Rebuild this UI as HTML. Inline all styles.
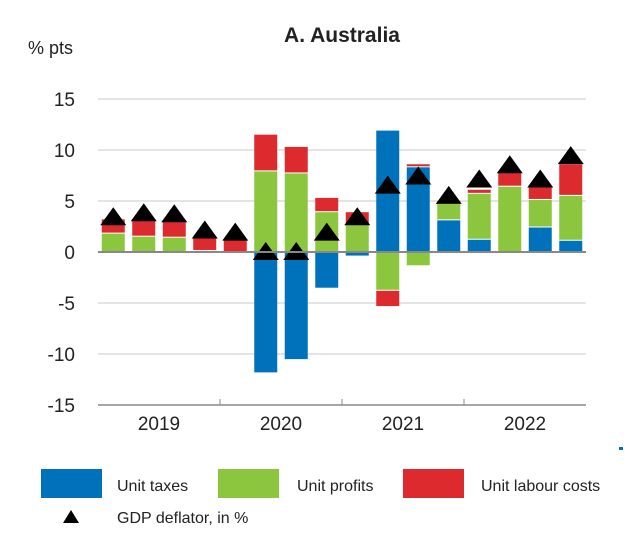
<!DOCTYPE html>
<html><head><meta charset="utf-8"><style>
body{margin:0;background:#fff;font-family:"Liberation Sans",Arial,sans-serif}
svg text{font-family:"Liberation Sans",Arial,sans-serif;fill:#222}
</style></head><body>
<svg id="c" width="632" height="534">
<text x="342" y="42" font-size="21" font-weight="bold" text-anchor="middle">A. Australia</text>
<text x="28" y="54" font-size="18">% pts</text>
<g id="grid"></g><g id="bars"></g><g id="marks"></g><g id="axis"></g>
<g>
<rect x="41" y="469" width="61" height="29" fill="#0072bc"/>
<text x="117" y="491" font-size="16">Unit taxes</text>
<rect x="218" y="469" width="61" height="29" fill="#8cc63f"/>
<text x="297" y="491" font-size="16">Unit profits</text>
<rect x="403" y="469" width="61" height="29" fill="#dc2a2e"/>
<text x="481" y="491" font-size="16">Unit labour costs</text>
<polygon points="63,523 71,510 79,523" fill="#000"/>
<text x="117" y="523" font-size="16">GDP deflator, in %</text>
</g>
<rect x="619" y="447" width="4" height="3" fill="#0072bc"/>
</svg>
<script>
const years=["2019","2020","2021","2022"];
const yTicks=[15,10,5,0,-5,-10,-15];
const taxes=[0,0,0,0,-0.2,-11.9,-10.6,-3.6,-0.45,12.0,8.4,3.2,1.3,0,2.5,1.2];
const profits=[1.9,1.6,1.5,0.2,0,8.0,7.8,4.0,2.8,-3.8,-1.4,1.6,4.5,6.5,2.7,4.4];
const labour=[1.4,1.7,1.6,1.3,1.3,3.6,2.6,1.4,1.2,-1.6,0.3,0.3,0.4,1.5,1.4,3.1];
const deflator=[3.5,3.9,3.8,2.2,2.0,0.1,0.1,2.0,3.5,6.6,7.5,5.6,7.2,8.6,7.2,9.5];
const NS="http://www.w3.org/2000/svg";
const x0=98,x1=586,nq=taxes.length,qw=(x1-x0)/nq;
function y(v){return 252-v*10.2;}
function xc(i){return x0+qw*(i+0.5);}
function mk(t,a,p){const e=document.createElementNS(NS,t);for(const k in a)e.setAttribute(k,a[k]);p.appendChild(e);return e;}
const G=document.getElementById('grid'),B=document.getElementById('bars'),M=document.getElementById('marks'),A=document.getElementById('axis');
yTicks.forEach(t=>{
 if(t!==0&&t!==-15){const l=mk('line',{x1:x0,x2:x1,y1:y(t),y2:y(t),stroke:'#d4d4d4','stroke-width':1.2},G);
 
 }
 const tx=mk('text',{x:75,y:y(t)+7,'font-size':19,'text-anchor':'end'},A);tx.textContent=t;
 
 
});
const series=[[taxes,'#0072bc','bar-taxes'],[profits,'#8cc63f','bar-profits'],[labour,'#dc2a2e','bar-labour']];
for(let i=0;i<nq;i++){
 let pos=0,neg=0;
 series.forEach(([arr,col,nm])=>{
  const v=arr[i];if(v===0)return;
  let a,b;
  if(v>0){a=pos;b=pos+v;pos=b;}else{a=neg;b=neg+v;neg=b;}
  const top=Math.min(y(a),y(b)),h=Math.abs(y(a)-y(b));
  const r=mk('rect',{x:xc(i)-11.5,y:top,width:23,height:Math.max(h-1,0.8),fill:col},B);
  if(v>0)r.setAttribute('y',top+1);
  
  
 });
 const d=deflator[i],cx=xc(i),cy=y(d);
 const p=mk('polygon',{points:`${cx-13},${cy+9} ${cx},${cy-9} ${cx+13},${cy+9}`,fill:'#000'},M);
 
 
}
const z=mk('line',{x1:x0,x2:x1,y1:y(0),y2:y(0),stroke:'#888','stroke-width':2},A);


const ax=mk('line',{x1:x0,x2:x1,y1:y(-15),y2:y(-15),stroke:'#888','stroke-width':1.5},A);


years.forEach((yr,k)=>{
 const xs=x0+qw*4*k;
 if(k>0){const t=mk('line',{x1:xs,x2:xs,y1:y(-15)-6,y2:y(-15),stroke:'#888','stroke-width':1},A);
 
 }
 const tx=mk('text',{x:xs+qw*2,y:430,'font-size':19,'text-anchor':'middle'},A);tx.textContent=yr;
 
 
});
</script>
</body></html>
